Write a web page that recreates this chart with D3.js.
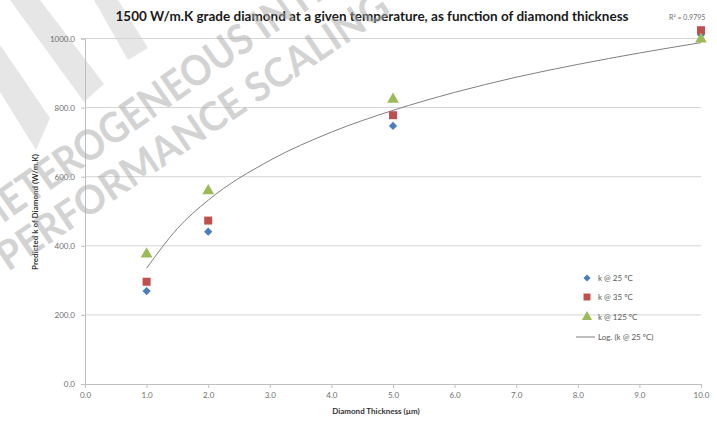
<!DOCTYPE html>
<html>
<head>
<meta charset="utf-8">
<script src="https://cdn.jsdelivr.net/npm/d3@7/dist/d3.min.js"></script>
<style>
  html, body { margin: 0; padding: 0; background: #ffffff; }
  svg { display: block; }
  text { font-family: Lato, "Open Sans", "Liberation Sans", sans-serif; }
</style>
</head>
<body>
<div id="chart"></div>
<script>
// ---------------- data ----------------
const titleText = "1500 W/m.K grade diamond at a given temperature, as function of diamond thickness";
const xLabel = "Diamond Thickness (µm)";
const yLabel = "Predicted k of Diamond (W/m.K)";
const thickness = [1, 2, 5, 10];
const k25 = [269, 441, 747, 1011];
const k35 = [296, 473, 778, 1024];
const k125 = [376, 559, 824, 998];
const seriesNames = ["k @ 25 ºC", "k @ 35 ºC", "k @ 125 ºC"];
const trendName = "Log. (k @ 25 ºC)";
const trendX = [1, 1.5, 2, 3, 4, 5, 6, 7, 8, 9, 10];
const trendY = [335, 450, 532, 647, 729, 792, 844, 888, 925, 958, 988];
const r2Label = "R² = 0.9795";
const xTicks = [0, 1, 2, 3, 4, 5, 6, 7, 8, 9, 10];
const yTicks = [0, 200, 400, 600, 800, 1000];
const watermarkLines = ["HETEROGENEOUS INTEGRATION", "PERFORMANCE SCALING"];

// ---------------- chart ----------------
const W = 717, H = 430;
const svg = d3.select("#chart").append("svg").attr("width", W).attr("height", H);

const x = d3.scaleLinear().domain([0, 10]).range([85, 701]);
const y = d3.scaleLinear().domain([0, 1000]).range([384, 38.5]);

// watermark stripes (behind)
const stripes = [
  [[10, 0], [40, 0], [104, 84], [84, 102]],
  [[94, 0], [118, 0], [148, 48], [128, 60]],
  [[0, 45], [0, 92], [36, 150], [50, 118]]
];
svg.append("g").attr("opacity", 0.3).selectAll("polygon").data(stripes).join("polygon")
  .attr("points", d => d.map(p => p.join(",")).join(" "))
  .attr("fill", "#b0b0b0");

// gridlines
svg.append("g").selectAll("line").data(yTicks.filter(d => d > 0)).join("line")
  .attr("x1", x(0)).attr("x2", x(10))
  .attr("y1", d => y(d)).attr("y2", d => y(d))
  .attr("stroke", "#d4d4d4").attr("stroke-width", 1);

// axes
const xAxis = d3.axisBottom(x).tickValues(xTicks).tickFormat(d3.format(".1f")).tickSize(4).tickPadding(4);
const yAxis = d3.axisLeft(y).tickValues(yTicks).tickFormat(d3.format(".1f")).tickSize(4).tickPadding(6);

const gx = svg.append("g").attr("transform", `translate(0,${y(0)})`).call(xAxis);
const gy = svg.append("g").attr("transform", `translate(${x(0)},0)`).call(yAxis);
[gx, gy].forEach(g => {
  g.select(".domain").attr("stroke", "#bfbfbf");
  g.selectAll(".tick line").attr("stroke", "#bfbfbf");
  g.selectAll(".tick text").attr("fill", "#6e6e6e").style("font-size", "8px")
    .style("font-family", "Lato, 'Open Sans', sans-serif");
});

// trendline
const trendPts = trendX.map((v, i) => [v, trendY[i]]);
svg.append("path")
  .datum(trendPts)
  .attr("fill", "none")
  .attr("stroke", "#7f7f7f")
  .attr("stroke-width", 1)
  .attr("d", d3.line().x(d => x(d[0])).y(d => y(d[1])).curve(d3.curveMonotoneX));

// markers
const colors = ["#4a7ebb", "#c0504d", "#9bbb59"];
const symbols = [d3.symbolSquare, d3.symbolSquare, d3.symbolTriangle];
const rot = [45, 0, 0];
const sizes = [34, 64, 60];
const allSeries = [k25, k35, k125];
allSeries.forEach((vals, si) => {
  svg.append("g").selectAll("path").data(vals).join("path")
    .attr("transform", (d, i) => `translate(${x(thickness[i])},${y(d)}) rotate(${rot[si]})`)
    .attr("d", d3.symbol().type(symbols[si]).size(sizes[si]))
    .attr("fill", colors[si]);
});

// title
svg.append("text")
  .attr("x", 372).attr("y", 21)
  .attr("text-anchor", "middle")
  .style("font-size", "13.5px").style("font-weight", "bold")
  .attr("fill", "#1a1a1a")
  .text(titleText);

// R2
svg.append("text")
  .attr("x", 669).attr("y", 20)
  .style("font-size", "7px").attr("fill", "#6e6e6e")
  .text(r2Label);

// axis titles
svg.append("text")
  .attr("x", 376).attr("y", 414)
  .attr("text-anchor", "middle")
  .style("font-size", "8px").style("font-weight", "bold").attr("fill", "#333")
  .text(xLabel);
svg.append("text")
  .attr("transform", "translate(38,212) rotate(-90)")
  .attr("text-anchor", "middle")
  .style("font-size", "8px").style("font-weight", "bold").attr("fill", "#333")
  .text(yLabel);

// legend
const legendY = [278, 297, 317, 337];
const lg = svg.append("g");
seriesNames.forEach((n, i) => {
  lg.append("path")
    .attr("transform", `translate(587,${legendY[i]}) rotate(${rot[i]})`)
    .attr("d", d3.symbol().type(symbols[i]).size(sizes[i] * 0.75))
    .attr("fill", colors[i]);
  lg.append("text").attr("x", 598).attr("y", legendY[i] + 3)
    .style("font-size", "8px").attr("fill", "#595959").text(n);
});
lg.append("line").attr("x1", 576).attr("x2", 595)
  .attr("y1", legendY[3]).attr("y2", legendY[3])
  .attr("stroke", "#7f7f7f").attr("stroke-width", 1);
lg.append("text").attr("x", 598).attr("y", legendY[3] + 3)
  .style("font-size", "8px").attr("fill", "#595959").text(trendName);

// watermark text (overlay)
const wm = svg.append("g").attr("opacity", 0.5).style("pointer-events", "none");
wm.append("text")
  .attr("transform", "translate(-12,234) rotate(-35) scale(0.9,1)")
  .style("font-size", "42px").style("font-weight", "bold")
  .attr("fill", "#a8a8a8").text(watermarkLines[0]);
wm.append("text")
  .attr("transform", "translate(8,272) rotate(-34) scale(0.97,1)")
  .style("font-size", "40px").style("font-weight", "bold")
  .attr("fill", "#a8a8a8").text(watermarkLines[1]);
</script>
</body>
</html>
